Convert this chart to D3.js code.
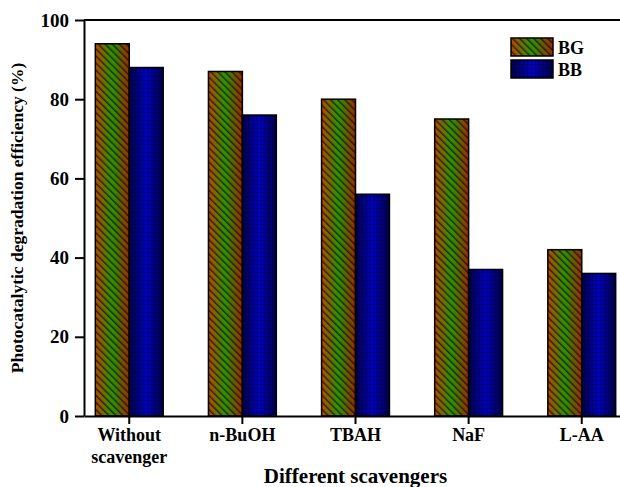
<!DOCTYPE html>
<html>
<head>
<meta charset="utf-8">
<script src="https://cdn.jsdelivr.net/npm/d3@7"></script>
<style>
  body { margin: 0; background: #fff; }
  svg { display: block; font-family: "Liberation Serif", "Times New Roman", serif; font-weight: bold; }
</style>
</head>
<body>
<div id="bar-chart"></div>
<script>
// data
var categories = ["Without scavenger", "n-BuOH", "TBAH", "NaF", "L-AA"];
var seriesNames = ["BG", "BB"];
var bgValues = [94, 87, 80, 75, 42];
var bbValues = [88, 76, 56, 37, 36];
var yTicks = [0, 20, 40, 60, 80, 100];

var width = 620, height = 487;
var plot = {left: 84, right: 627, top: 20, bottom: 416};

var svg = d3.select("#bar-chart").append("svg")
    .attr("width", width)
    .attr("height", height);

// fills: gradient + overlay pattern for each series
var defs = svg.append("defs");

var gBG = defs.append("linearGradient").attr("id", "gradBG");
gBG.append("stop").attr("offset", "0%").attr("stop-color", "#b84800");
gBG.append("stop").attr("offset", "50%").attr("stop-color", "#2c9400");
gBG.append("stop").attr("offset", "100%").attr("stop-color", "#a02a00");

var gBB = defs.append("linearGradient").attr("id", "gradBB");
gBB.append("stop").attr("offset", "0%").attr("stop-color", "#00004a");
gBB.append("stop").attr("offset", "50%").attr("stop-color", "#0000d2");
gBB.append("stop").attr("offset", "100%").attr("stop-color", "#00004a");

var hatch = defs.append("pattern")
    .attr("id", "hatchBG")
    .attr("patternUnits", "userSpaceOnUse")
    .attr("width", 5).attr("height", 5)
    .attr("patternTransform", "rotate(-45)");
hatch.append("rect")
    .attr("x", 0).attr("y", 0)
    .attr("width", 1.5).attr("height", 5)
    .attr("fill", "#000").attr("fill-opacity", 0.65);

var grid = defs.append("pattern")
    .attr("id", "gridBB")
    .attr("patternUnits", "userSpaceOnUse")
    .attr("width", 4).attr("height", 4);
grid.append("path")
    .attr("d", "M0,0.5H4M0.5,0V4")
    .attr("stroke", "#000020").attr("stroke-width", 1)
    .attr("stroke-opacity", 0.45);

var fills = {BG: ["url(#gradBG)", "url(#hatchBG)"], BB: ["url(#gradBB)", "url(#gridBB)"]};

// scales
var x = d3.scaleBand().domain(categories).range([plot.left, plot.right])
    .paddingInner(0.4).paddingOuter(0.1);
var xSub = d3.scaleBand().domain(seriesNames).range([0, x.bandwidth()]);
var y = d3.scaleLinear().domain([0, 100]).range([plot.bottom, plot.top]);

var rows = categories.map(function (c, i) {
    return {cat: c, values: [{key: "BG", v: bgValues[i]}, {key: "BB", v: bbValues[i]}]};
});

// bars
var groups = svg.append("g").selectAll("g")
    .data(rows).enter().append("g")
    .attr("transform", function (d) { return "translate(" + x(d.cat) + ",0)"; });

var bars = groups.selectAll("g")
    .data(function (d) { return d.values; })
    .enter().append("g");

[0, 1].forEach(function (k) {
    bars.append("rect")
        .attr("x", function (d) { return xSub(d.key); })
        .attr("y", function (d) { return y(d.v); })
        .attr("width", xSub.bandwidth())
        .attr("height", function (d) { return y(0) - y(d.v); })
        .attr("fill", function (d) { return fills[d.key][k]; })
        .attr("stroke", k === 1 ? "#000" : "none")
        .attr("stroke-width", 1.5);
});

// top frame line
svg.append("line")
    .attr("x1", plot.left).attr("x2", plot.right)
    .attr("y1", y(100)).attr("y2", y(100))
    .attr("stroke", "#000").attr("stroke-width", 2);

// y axis
var yAxis = svg.append("g")
    .attr("transform", "translate(" + plot.left + ",0)")
    .call(d3.axisLeft(y).tickValues(yTicks).tickSize(9).tickSizeOuter(0).tickPadding(6))
    .attr("font-family", null)
    .attr("font-size", 19);
yAxis.selectAll("text").attr("fill", "#000");

// x axis
var xAxis = svg.append("g")
    .attr("transform", "translate(0," + plot.bottom + ")")
    .call(d3.axisBottom(x).tickSize(8).tickSizeOuter(0).tickFormat(""))
    .attr("font-family", null)
    .attr("font-size", 18);
xAxis.selectAll(".tick").each(function (d) {
    var words = d.split(" ");
    var t = d3.select(this).append("text")
        .attr("y", 25)
        .attr("fill", "#000")
        .attr("text-anchor", "middle");
    words.forEach(function (w, i) {
        t.append("tspan").attr("x", 0).attr("dy", i === 0 ? 0 : 22).text(w);
    });
});

svg.selectAll(".domain, .tick line").attr("stroke", "#000").attr("stroke-width", 2);

// axis titles
svg.append("text")
    .attr("x", (plot.left + plot.right) / 2)
    .attr("y", 483)
    .attr("text-anchor", "middle")
    .attr("font-size", 21)
    .text("Different scavengers");

svg.append("text")
    .attr("transform", "translate(23," + ((plot.top + plot.bottom) / 2) + ") rotate(-90)")
    .attr("text-anchor", "middle")
    .attr("font-size", 17.5)
    .text("Photocatalytic degradation efficiency (%)");

// legend
var legend = svg.append("g").attr("transform", "translate(511,38)");
seriesNames.forEach(function (s, i) {
    var row = legend.append("g").attr("transform", "translate(0," + (i * 22) + ")");
    fills[s].forEach(function (f, k) {
        row.append("rect")
            .attr("width", 42).attr("height", 18)
            .attr("fill", f)
            .attr("stroke", k === 1 ? "#000" : "none")
            .attr("stroke-width", 1.5);
    });
    row.append("text")
        .attr("x", 47).attr("y", 16)
        .attr("font-size", 18)
        .text(s);
});
</script>
</body>
</html>
